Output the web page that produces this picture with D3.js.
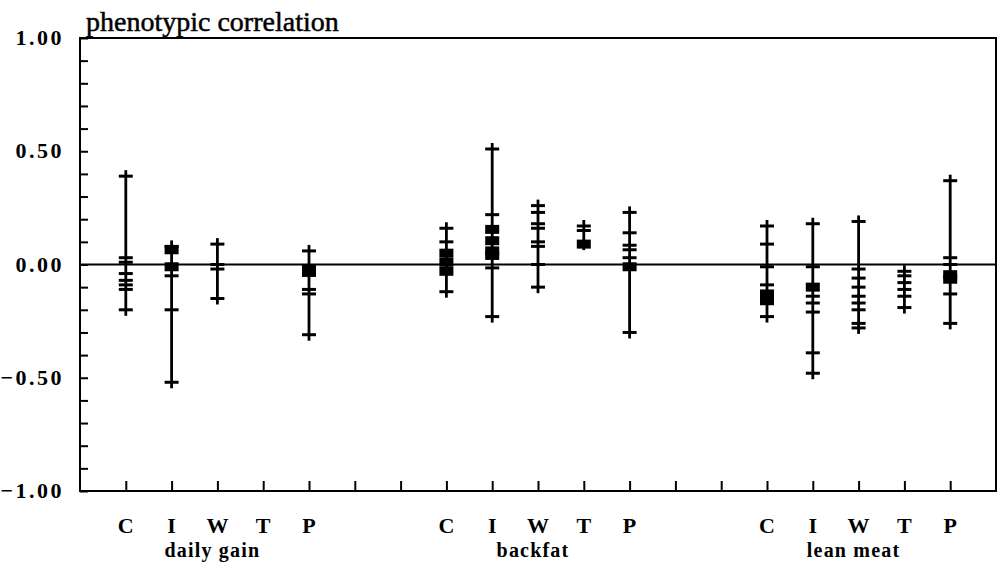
<!DOCTYPE html>
<html>
<head>
<meta charset="utf-8">
<script src="https://cdn.jsdelivr.net/npm/d3@7"></script>
<style>
  body { margin: 0; background: #fff; }
  text { font-family: "Liberation Serif", "Times New Roman", serif; fill: #000; }
</style>
</head>
<body>
<svg></svg>
<script>
const traits = ["daily gain", "backfat", "lean meat"];
const categories = ["C", "I", "W", "T", "P"];
const yTickLabels = [1, 0.5, 0, -0.5, -1];

// single estimates (crosses) per category C, I, W, T, P
const dailyGainCrosses = [
  [0.39, 0.03, 0.01, -0.04, -0.07, -0.09, -0.11, -0.20],
  [0.08, -0.05, -0.20, -0.52],
  [0.09, 0.00, -0.02, -0.15],
  [],
  [0.06, -0.11, -0.13, -0.31]
];
const backfatCrosses = [
  [0.16, 0.10, -0.12],
  [0.51, 0.22, -0.015, -0.23],
  [0.26, 0.23, 0.18, 0.16, 0.10, 0.08, 0.00, -0.10],
  [0.17, 0.15],
  [0.23, 0.14, 0.085, 0.065, 0.03, -0.30]
];
const leanMeatCrosses = [
  [0.17, 0.09, -0.01, -0.09, -0.23],
  [0.18, -0.01, -0.14, -0.17, -0.21, -0.39, -0.48],
  [0.19, -0.02, -0.06, -0.10, -0.14, -0.17, -0.20, -0.26, -0.28],
  [-0.03, -0.05, -0.08, -0.11, -0.14, -0.19],
  [0.37, 0.03, 0.00, -0.13, -0.26]
];

// filled squares per category
const dailyGainSquares = [[], [0.065, -0.01], [], [], [-0.02, -0.035]];
const backfatSquares = [[0.05, 0.01, -0.03], [0.155, 0.105, 0.06, 0.04], [], [0.09], [-0.01]];
const leanMeatSquares = [[-0.13, -0.16], [-0.10], [], [], [-0.045, -0.065]];

const crossSets = [dailyGainCrosses, backfatCrosses, leanMeatCrosses];
const squareSets = [dailyGainSquares, backfatSquares, leanMeatSquares];

const W = 999, H = 569;
const svg = d3.select("svg").attr("width", W).attr("height", H);

// slot index: trait t, category c -> t*7 + c
const x = d3.scaleLinear().domain([-1, 19]).range([80, 996]);
const y = d3.scaleLinear().domain([-1, 1]).range([491, 38]);

const groups = [];
traits.forEach((t, ti) => {
  categories.forEach((c, ci) => {
    groups.push({
      slot: ti * 7 + ci,
      crosses: crossSets[ti][ci],
      squares: squareSets[ti][ci]
    });
  });
});

// frame
svg.append("rect")
  .attr("x", x(-1)).attr("y", y(1))
  .attr("width", x(19) - x(-1)).attr("height", y(-1) - y(1))
  .attr("fill", "none").attr("stroke", "#000").attr("stroke-width", 2);

// zero line
svg.append("line")
  .attr("x1", x(-1)).attr("x2", x(19))
  .attr("y1", y(0)).attr("y2", y(0))
  .attr("stroke", "#000").attr("stroke-width", 2);

// left axis: inward minor ticks every 0.1
const yAxis = svg.append("g").attr("transform", `translate(${x(-1)},0)`)
  .call(d3.axisRight(y).tickValues(d3.range(-10, 11).map(d => d / 10)).tickSize(8).tickFormat(""));
yAxis.select(".domain").remove();
yAxis.selectAll("line").attr("stroke-width", 2);

svg.append("g").selectAll("text")
  .data(yTickLabels)
  .join("text")
    .attr("x", 64)
    .attr("y", d => y(d) + 7)
    .attr("text-anchor", "end")
    .style("font-size", "22px")
    .style("font-weight", "bold")
    .style("letter-spacing", "2.5px")
    .text(d => d3.format(".2f")(d));

// bottom axis: inward ticks at every slot
const xAxis = svg.append("g").attr("transform", `translate(0,${y(-1)})`)
  .call(d3.axisTop(x).tickValues(d3.range(0, 19)).tickSize(10).tickFormat(""));
xAxis.select(".domain").remove();
xAxis.selectAll("line").attr("stroke-width", 2);

// category letters
svg.append("g").selectAll("text")
  .data(groups)
  .join("text")
    .attr("x", d => x(d.slot))
    .attr("y", 533)
    .attr("text-anchor", "middle")
    .style("font-size", "22px")
    .style("font-weight", "bold")
    .text(d => categories[d.slot % 7]);

// trait labels, roughly under W
svg.append("g").selectAll("text")
  .data(traits)
  .join("text")
    .attr("x", (d, i) => x(i * 7 + 2) - 5)
    .attr("y", 557)
    .attr("text-anchor", "middle")
    .style("font-size", "20px")
    .style("font-weight", "bold")
    .style("letter-spacing", "1.2px")
    .text(d => d);

// title, its descenders touch the frame
svg.append("text")
  .attr("x", 86)
  .attr("y", 31)
  .style("font-size", "28px")
  .style("stroke", "#000")
  .style("stroke-width", 0.5)
  .text("phenotypic correlation");

// whiskers, crosses and squares
const marks = svg.append("g");
groups.filter(g => g.crosses.length + g.squares.length > 0).forEach(g => {
  const vals = g.crosses.concat(g.squares);
  const cx = x(g.slot);
  marks.append("line")
    .attr("x1", cx).attr("x2", cx)
    .attr("y1", y(d3.max(vals)) - 6)
    .attr("y2", y(d3.min(vals)) + 6)
    .attr("stroke", "#000").attr("stroke-width", 2.8);

  marks.selectAll(null)
    .data(g.crosses)
    .join("line")
      .attr("x1", cx - 7).attr("x2", cx + 7)
      .attr("y1", d => y(d)).attr("y2", d => y(d))
      .attr("stroke", "#000").attr("stroke-width", 3);

  marks.selectAll(null)
    .data(g.squares)
    .join("rect")
      .attr("x", cx - 7).attr("y", d => y(d) - 4.5)
      .attr("width", 14).attr("height", 9)
      .attr("fill", "#000");
});
</script>
</body>
</html>
